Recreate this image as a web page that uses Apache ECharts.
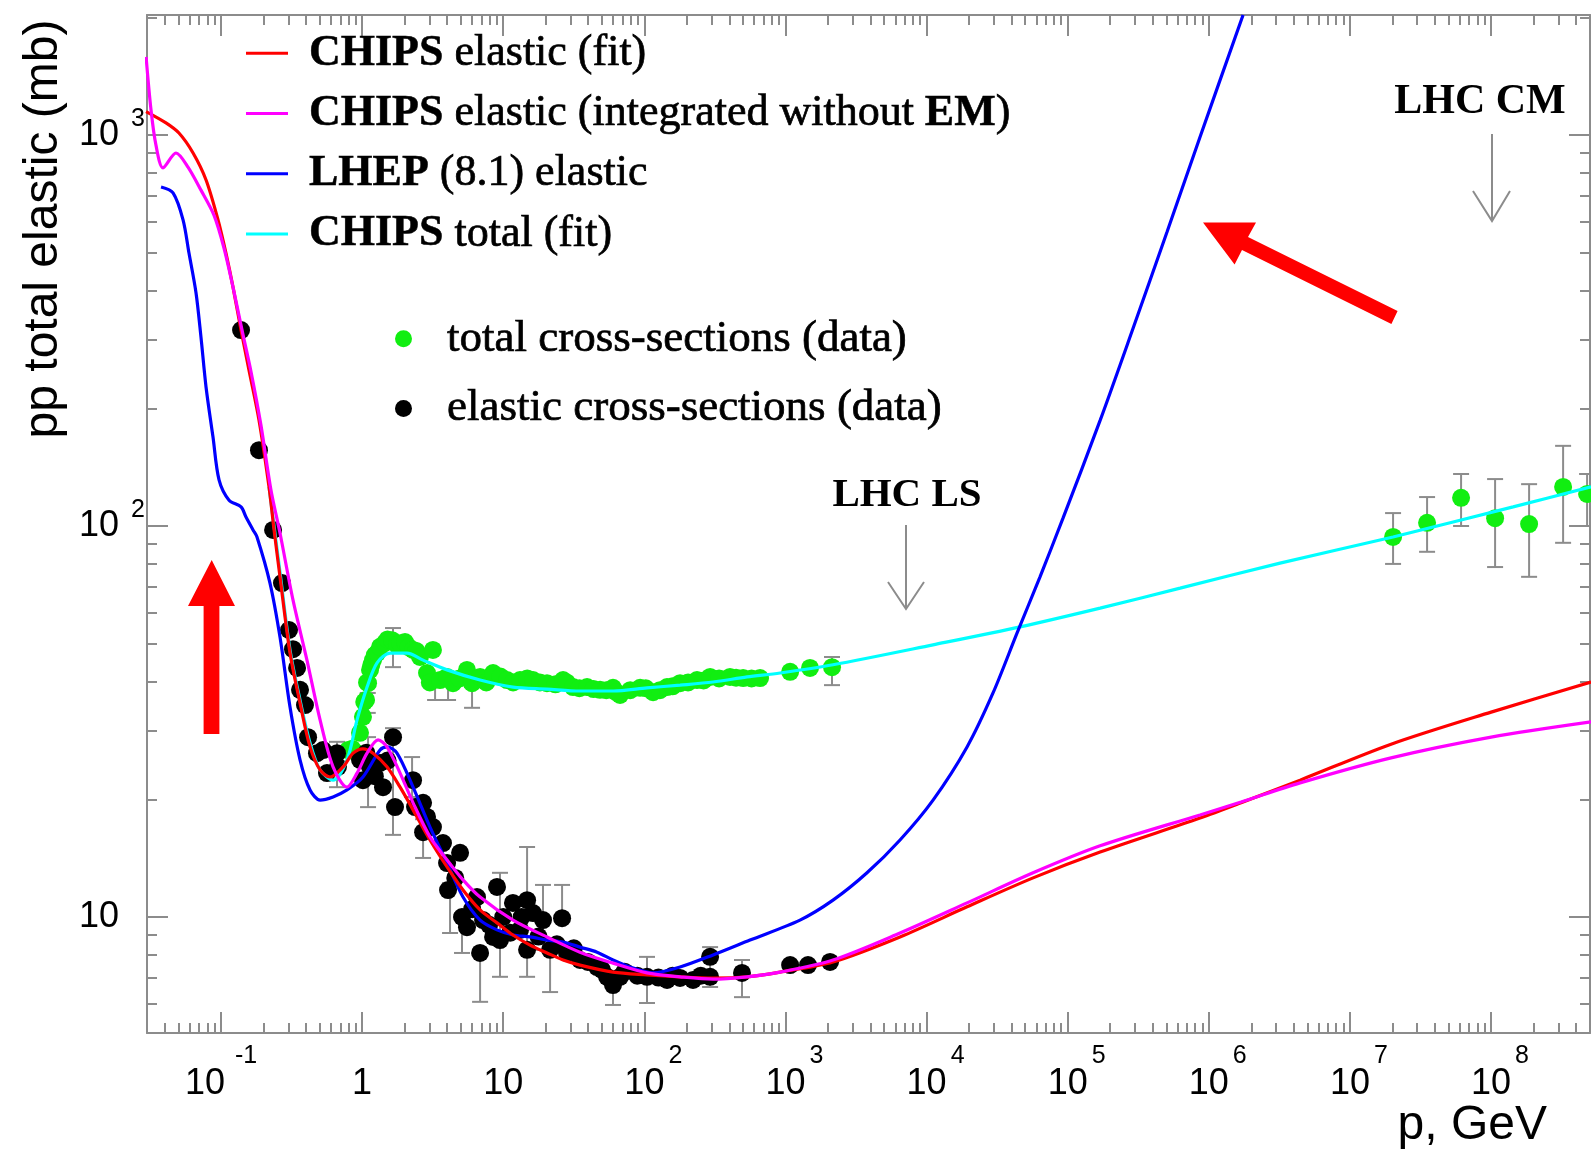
<!DOCTYPE html>
<html><head><meta charset="utf-8">
<script src="https://cdn.jsdelivr.net/npm/echarts@6/dist/echarts.min.js"></script>
<style>html,body{margin:0;padding:0;background:#fff}#c{width:1591px;height:1151px}</style>
</head><body><div id="c"></div>
<script>
// All values are [log10(p / GeV), log10(sigma / mb)].
const chipsElasticFit = [
[-1.531,3.060],[-1.390,3.031],[-1.298,3.005],[-1.198,2.954],[-1.106,2.885],[-1.021,2.783],[-0.965,2.698],[-0.915,2.611],[-0.858,2.501],[-0.802,2.399],[-0.731,2.271],[-0.660,2.100],[-0.624,1.990],[-0.582,1.870],[-0.511,1.675],[-0.440,1.547],[-0.369,1.435],[-0.298,1.376],[-0.228,1.358],[-0.135,1.384],[-0.064,1.419],[0.006,1.430],[0.077,1.419],[0.176,1.384],[0.269,1.332],[0.361,1.274],[0.481,1.197],[0.602,1.128],[0.715,1.069],[0.836,1.018],[0.956,0.985],[1.069,0.954],[1.190,0.928],[1.310,0.908],[1.424,0.890],[1.544,0.877],[1.778,0.859],[2.019,0.852],[2.253,0.847],[2.487,0.844],[2.728,0.847],[2.962,0.859],[3.337,0.885],[3.812,0.949],[4.287,1.026],[4.755,1.100],[5.230,1.166],[5.938,1.253],[6.229,1.292],[6.647,1.350],[7.292,1.442],[8.001,1.524],[8.709,1.601]
];
const chipsElasticIntegrated = [
[-1.531,3.200],[-1.496,3.064],[-1.461,2.974],[-1.411,2.916],[-1.319,2.954],[-1.234,2.918],[-1.142,2.859],[-1.050,2.795],[-0.979,2.711],[-0.915,2.611],[-0.851,2.501],[-0.787,2.394],[-0.717,2.258],[-0.646,2.092],[-0.582,1.982],[-0.490,1.811],[-0.391,1.657],[-0.298,1.504],[-0.206,1.384],[-0.107,1.332],[-0.036,1.368],[0.035,1.419],[0.113,1.453],[0.176,1.435],[0.269,1.368],[0.361,1.292],[0.481,1.205],[0.602,1.146],[0.715,1.095],[0.836,1.051],[1.069,0.992],[1.310,0.949],[1.544,0.910],[1.778,0.882],[2.019,0.857],[2.253,0.847],[2.487,0.841],[2.728,0.847],[2.962,0.859],[3.337,0.890],[3.812,0.959],[4.287,1.036],[4.755,1.113],[5.230,1.182],[5.938,1.261],[6.229,1.294],[6.647,1.343],[7.292,1.407],[8.001,1.460],[8.709,1.499]
];
const lhepElastic = [
[-1.425,2.867],[-1.340,2.852],[-1.269,2.783],[-1.227,2.698],[-1.177,2.596],[-1.142,2.483],[-1.106,2.355],[-1.057,2.228],[-1.014,2.118],[-0.943,2.066],[-0.858,2.049],[-0.823,2.023],[-0.773,1.990],[-0.745,1.972],[-0.653,1.854],[-0.582,1.716],[-0.511,1.537],[-0.440,1.402],[-0.369,1.325],[-0.298,1.299],[-0.206,1.307],[-0.107,1.325],[0.006,1.358],[0.127,1.427],[0.176,1.435],[0.247,1.419],[0.361,1.332],[0.481,1.230],[0.602,1.138],[0.715,1.051],[0.836,0.992],[0.956,0.967],[1.069,0.954],[1.190,0.949],[1.310,0.941],[1.424,0.936],[1.544,0.923],[1.665,0.910],[1.778,0.890],[1.899,0.872],[2.062,0.857],[2.253,0.872],[2.487,0.903],[2.749,0.941],[3.103,0.992],[3.337,1.043],[3.578,1.113],[3.812,1.197],[4.046,1.299],[4.287,1.435],[4.471,1.573],[4.641,1.726],[4.804,1.870],[4.967,2.020],[5.230,2.270],[5.463,2.505],[5.704,2.752],[5.938,2.995],[6.243,3.307]
];
const chipsTotalFit = [
[-0.660,2.100],[-0.582,1.882],[-0.511,1.683],[-0.440,1.555],[-0.369,1.445],[-0.298,1.376],[-0.206,1.350],[-0.107,1.402],[-0.036,1.504],[0.035,1.588],[0.106,1.650],[0.198,1.675],[0.318,1.675],[0.432,1.657],[0.602,1.632],[0.836,1.606],[1.069,1.588],[1.310,1.583],[1.544,1.578],[1.778,1.578],[2.019,1.586],[2.253,1.593],[2.487,1.601],[2.728,1.614],[2.962,1.624],[3.337,1.645],[4.046,1.696],[4.663,1.742],[5.230,1.790],[5.797,1.841],[6.505,1.905],[7.306,1.972],[8.157,2.049],[8.709,2.100]
];
const totalData = [
[-0.100,1.427],[-0.070,1.430],[-0.036,1.419],[-0.015,1.471],[0.006,1.512],[0.015,1.550],[0.028,1.555],[0.035,1.600],[0.042,1.598],[0.056,1.632],[0.065,1.645],[0.077,1.657],[0.090,1.670],[0.106,1.675],[0.127,1.691],[0.162,1.701],[0.180,1.710],[0.212,1.708],[0.247,1.696],[0.270,1.700],[0.304,1.703],[0.330,1.690],[0.361,1.683],[0.385,1.680],[0.410,1.665],[0.460,1.624],[0.480,1.600],[0.502,1.683],[0.552,1.606],[0.602,1.614],[0.644,1.598],[0.690,1.610],[0.743,1.632],[0.779,1.598],[0.836,1.614],[0.880,1.600],[0.928,1.624],[0.980,1.615],[1.027,1.606],[1.070,1.600],[1.119,1.606],[1.170,1.610],[1.211,1.606],[1.260,1.600],[1.310,1.598],[1.370,1.595],[1.424,1.606],[1.450,1.600],[1.495,1.588],[1.540,1.585],[1.594,1.588],[1.640,1.583],[1.686,1.581],[1.730,1.580],[1.778,1.586],[1.800,1.575],[1.828,1.568],[1.900,1.580],[1.970,1.586],[2.010,1.585],[2.062,1.575],[2.110,1.580],[2.161,1.588],[2.200,1.590],[2.253,1.598],[2.310,1.600],[2.373,1.606],[2.420,1.605],[2.466,1.614],[2.530,1.610],[2.607,1.614],[2.650,1.612],[2.700,1.611],[2.760,1.610],[2.820,1.611],[3.033,1.627],[3.174,1.637],[3.330,1.639],
[7.306,1.972],[7.547,2.008],[7.788,2.072],[8.029,2.020],[8.270,2.005],[8.511,2.100],[8.681,2.082]
];
const elasticData = [
[-0.858,2.501],[-0.731,2.194],[-0.631,1.990],[-0.568,1.854],[-0.518,1.734],[-0.490,1.685],[-0.461,1.637],[-0.440,1.581],[-0.405,1.542],[-0.383,1.460],[-0.320,1.419],[-0.277,1.427],[-0.249,1.368],[-0.178,1.419],[-0.171,1.384],[-0.015,1.402],[0.006,1.350],[0.030,1.420],[0.056,1.384],[0.090,1.360],[0.127,1.394],[0.148,1.332],[0.180,1.400],[0.219,1.460],[0.233,1.281],[0.361,1.350],[0.375,1.281],[0.432,1.292],[0.460,1.256],[0.432,1.217],[0.502,1.230],[0.573,1.189],[0.602,1.138],[0.660,1.100],[0.694,1.164],[0.609,1.069],[0.708,1.000],[0.780,1.020],[0.814,1.051],[0.743,0.974],[0.857,0.992],[0.900,0.980],[0.956,1.077],[0.928,0.949],[0.977,0.941],[1.000,1.000],[1.050,0.960],[0.836,0.908],[1.069,1.036],[1.119,0.967],[1.130,1.000],[1.169,1.043],[1.211,1.010],[1.169,0.916],[1.250,0.950],[1.282,0.992],[1.332,0.916],[1.380,0.930],[1.417,0.997],[1.452,0.908],[1.500,0.920],[1.544,0.890],[1.600,0.885],[1.665,0.872],[1.700,0.865],[1.736,0.847],[1.778,0.826],[1.828,0.847],[1.860,0.860],[1.950,0.850],[2.019,0.847],[2.100,0.845],[2.161,0.839],[2.200,0.850],[2.253,0.844],[2.345,0.839],[2.400,0.850],[2.466,0.847],[2.466,0.898],[2.692,0.857],[3.033,0.877],[3.160,0.877],[3.316,0.885]
];
// error bars: [log10 p, log10 sigma low, log10 sigma high]
const elasticErr = [
[-0.178,1.332,1.448],[0.042,1.281,1.460],[0.219,1.210,1.483],[0.354,1.307,1.409],[0.432,1.151,1.250],[0.623,0.959,1.087],[0.708,0.908,1.010],[0.836,0.783,0.908],[0.977,0.847,1.113],[1.169,0.847,1.179],[1.282,0.916,1.082],[1.332,0.808,0.916],[1.417,0.997,1.082],[1.778,0.775,0.839],[2.019,0.780,0.898],[2.466,0.821,0.923],[2.692,0.795,0.890]
];
const totalErr = [
[0.040,1.522,1.573],[0.219,1.639,1.739],[0.517,1.555,1.593],[0.609,1.555,1.606],[0.779,1.535,1.588],[3.330,1.593,1.665],
[7.306,1.903,2.033],[7.547,1.934,2.074],[7.788,2.000,2.133],[8.029,1.895,2.120],[8.270,1.870,2.107],[8.511,1.957,2.205],[8.681,2.000,2.133]
];
const xTickLabels = [-1,0,1,2,3,4,5,6,7,8];   // decades of p
const yTickLabels = [1,2,3];                  // decades of sigma

const X_MIN=-1.5245, X_MAX=8.7016, Y_MIN=0.7033, Y_MAX=3.3069;
function minorTicks(lo,hi){const r=[];for(let d=-3;d<=9;d++){for(let k=2;k<=9;k++){const v=d+Math.log10(k);if(v>lo&&v<hi)r.push(v);}}return r;}
const xMinor=minorTicks(X_MIN,X_MAX), yMinor=minorTicks(Y_MIN,Y_MAX);
const AX='#8c8c8c';
const SANS="'Liberation Sans', Arial, sans-serif";
const SERIF="'Liberation Serif', 'Times New Roman', serif";

function xFmt(v){const n=Math.round(v);if(n===0)return '{b|1}';if(n===1)return '{b|10}';if(n<0)return '{b|10}{en|'+n+'}';return '{sp| }{b|10}{e|'+n+'}';}
function yFmt(v){const n=Math.round(v);if(n===1)return '{b|10}{sp| }';return '{b|10}{e|'+n+'}';}

function mkX(position,ticks,len,main){
  return {type:'value',position,min:X_MIN,max:X_MAX,
    axisLine:{show:main,onZero:false,lineStyle:{color:AX,width:2}},
    axisTick:{show:true,inside:true,length:len,customValues:ticks,lineStyle:{color:AX,width:2}},
    axisLabel:(main&&position==='bottom')?{show:true,customValues:xTickLabels,formatter:xFmt,margin:11,color:'#000',
      rich:{b:{fontFamily:SANS,fontSize:36,lineHeight:80,color:'#000'},
            e:{fontFamily:SANS,fontSize:25,lineHeight:25,verticalAlign:'top',padding:[0,0,0,4],color:'#000'},
            en:{fontFamily:SANS,fontSize:25,lineHeight:25,verticalAlign:'top',padding:[0,0,0,10],color:'#000'},
            sp:{fontFamily:SANS,fontSize:25,lineHeight:25,width:18}}}:{show:false},
    splitLine:{show:false}};
}
function mkY(position,ticks,len,main){
  return {type:'value',position,min:Y_MIN,max:Y_MAX,
    axisLine:{show:main,onZero:false,lineStyle:{color:AX,width:2}},
    axisTick:{show:true,inside:true,length:len,customValues:ticks,lineStyle:{color:AX,width:2}},
    axisLabel:(main&&position==='left')?{show:true,customValues:yTickLabels,formatter:yFmt,margin:2,color:'#000',
      rich:{b:{fontFamily:SANS,fontSize:36,lineHeight:56,color:'#000'},
            e:{fontFamily:SANS,fontSize:25,lineHeight:25,verticalAlign:'top',padding:[0,0,0,12],color:'#000'},
            sp:{fontFamily:SANS,fontSize:25,lineHeight:25,width:26}}}:{show:false},
    splitLine:{show:false}};
}

function errRender(params,api){
  const x=api.value(0),lo=api.value(1),hi=api.value(2);
  const a=api.coord([x,lo]),b=api.coord([x,hi]);const w=8;
  const st={stroke:AX,lineWidth:2};
  return {type:'group',children:[
    {type:'line',shape:{x1:a[0],y1:a[1],x2:b[0],y2:b[1]},style:st},
    {type:'line',shape:{x1:a[0]-w,y1:a[1],x2:a[0]+w,y2:a[1]},style:st},
    {type:'line',shape:{x1:b[0]-w,y1:b[1],x2:b[0]+w,y2:b[1]},style:st}]};
}
function lineSeries(name,data,color){
  return {type:'line',name,data,showSymbol:false,symbol:'none',smooth:0.3,clip:true,z:5,
    lineStyle:{color,width:3.2},itemStyle:{color},emphasis:{disabled:true},silent:true};
}

const chart=echarts.init(document.getElementById('c'),null,{renderer:'canvas'});
chart.setOption({
  animation:false,
  backgroundColor:'#ffffff',
  grid:{left:147,top:15,width:1443,height:1018,containLabel:false,outerBoundsMode:'none'},
  xAxis:[mkX('bottom',xTickLabels,21,true),mkX('bottom',xMinor,10,false),mkX('top',xTickLabels,21,true),mkX('top',xMinor,10,false)],
  yAxis:[mkY('left',yTickLabels,21,true),mkY('left',yMinor,10,false),mkY('right',yTickLabels,21,true),mkY('right',yMinor,10,false)],
  legend:[{
    data:['CHIPS elastic (fit)','CHIPS elastic (integrated without EM)','LHEP (8.1) elastic','CHIPS total (fit)'],
    orient:'vertical',left:246,top:31,padding:0,itemWidth:42,itemHeight:3,itemGap:15.5,icon:'rect',selectedMode:false,
    formatter:function(n){return n.replace(/^(CHIPS|LHEP)/,'{b|$1}').replace(' EM)',' {b|EM})');},
    textStyle:{fontFamily:SERIF,fontSize:44,lineHeight:44,color:'#000',textBorderColor:'#000',textBorderWidth:0.7,padding:[0,0,0,16],
      rich:{b:{fontFamily:SERIF,fontSize:44,fontWeight:'bold',lineHeight:44,color:'#000',textBorderColor:'#000',textBorderWidth:0.5}}}
  },{
    data:['total cross-sections (data)','elastic cross-sections (data)'],
    orient:'vertical',left:395,top:316,padding:0,itemWidth:17,itemHeight:17,itemGap:24,icon:'circle',selectedMode:false,
    textStyle:{fontFamily:SERIF,fontSize:45,lineHeight:44,color:'#000',textBorderColor:'#000',textBorderWidth:0.7,padding:[0,0,0,30]}
  }],
  series:[
    {type:'custom',name:'totalErr',data:totalErr,renderItem:errRender,encode:{x:0,y:[1,2]},z:2,silent:true,clip:true},
    {type:'custom',name:'elasticErr',data:elasticErr,renderItem:errRender,encode:{x:0,y:[1,2]},z:2,silent:true,clip:true},
    {type:'scatter',name:'total cross-sections (data)',data:totalData,symbol:'circle',symbolSize:18,itemStyle:{color:'#11ee11',opacity:1},z:3,silent:true},
    {type:'scatter',name:'elastic cross-sections (data)',data:elasticData,symbol:'circle',symbolSize:18,itemStyle:{color:'#000000',opacity:1},z:3,silent:true},
    lineSeries('CHIPS total (fit)',chipsTotalFit,'#00ffff'),
    lineSeries('LHEP (8.1) elastic',lhepElastic,'#0000ff'),
    lineSeries('CHIPS elastic (fit)',chipsElasticFit,'#ff0000'),
    lineSeries('CHIPS elastic (integrated without EM)',chipsElasticIntegrated,'#ff00ff')
  ],
  graphic:[
    {type:'text',x:44,y:229,rotation:Math.PI/2,z:100,style:{text:'pp total elastic (mb)',fontFamily:SANS,fontSize:48,fill:'#000',align:'center',verticalAlign:'middle',textAlign:'center',textVerticalAlign:'middle'}},
    {type:'text',x:1547,y:1126,z:100,style:{text:'p, GeV',fontFamily:SANS,fontSize:48,fill:'#000',align:'right',verticalAlign:'middle',textAlign:'right',textVerticalAlign:'middle'}},
    {type:'text',x:907,y:495,z:100,style:{text:'LHC LS',fontFamily:SERIF,fontWeight:'bold',fontSize:41,fill:'#000',align:'center',verticalAlign:'middle',textAlign:'center',textVerticalAlign:'middle'}},
    {type:'text',x:1480,y:102,z:100,style:{text:'LHC CM',fontFamily:SERIF,fontWeight:'bold',fontSize:42,fill:'#000',align:'center',verticalAlign:'middle',textAlign:'center',textVerticalAlign:'middle'}},
    {type:'line',z:100,shape:{x1:906,y1:525,x2:906,y2:609},style:{stroke:AX,lineWidth:2}},
    {type:'polyline',z:100,shape:{points:[[888,582],[906,609],[924,582]]},style:{stroke:AX,lineWidth:2,fill:null}},
    {type:'line',z:100,shape:{x1:1492,y1:134,x2:1492,y2:221},style:{stroke:AX,lineWidth:2}},
    {type:'polyline',z:100,shape:{points:[[1473,191],[1492,221],[1510,191]]},style:{stroke:AX,lineWidth:2,fill:null}},
    {type:'polygon',z:100,shape:{points:[[211.7,560],[235,606],[219.4,606],[219.4,734],[203.6,734],[203.6,606],[188,606]]},style:{fill:'#ff0000'}},
    {type:'polygon',z:100,shape:{points:[[1203,222.5],[1256,222.5],[1248,237],[1397.6,311],[1391.4,324],[1242,250],[1234.6,264.4]]},style:{fill:'#ff0000'}}
  ]
});
</script>
</body></html>
